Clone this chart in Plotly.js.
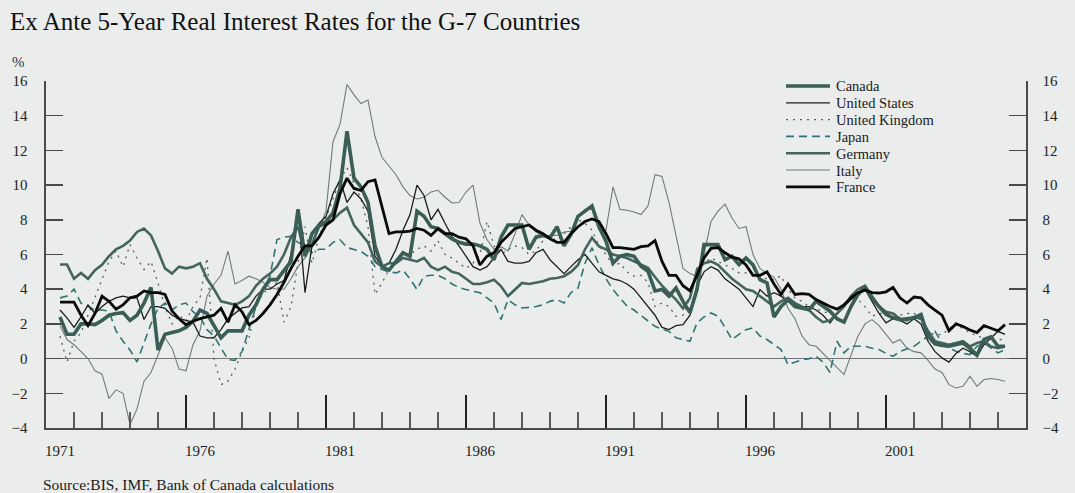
<!DOCTYPE html>
<html><head><meta charset="utf-8">
<script src="https://cdn.plot.ly/plotly-3.0.1.min.js"></script>
<style>html,body{margin:0;padding:0;background:#eaedec;}#chart{width:1075px;height:493px;}</style>
</head><body><div id="chart"></div>
<script>
// Quarterly observations, first quarter = 1971 Q3
const startYear = 1971.5;
const quarterStep = 0.25;

const canada = [
2.4, 1.4,
1.4, 2.0, 2.0, 1.96,
2.2, 2.5, 2.6, 2.65,
2.2, 2.5, 3.2, 4.1,
0.5, 1.4, 1.5, 1.6,
1.8, 2.15, 2.8, 2.6,
1.9, 1.2, 1.6, 1.6,
1.6, 2.5, 3.1, 4.0,
4.55, 4.55, 5.1, 5.6,
8.6, 5.9, 7.2, 7.7,
7.9, 8.4, 9.8, 13.1,
10.4, 9.9, 9.0, 6.5,
5.3, 5.1, 5.6, 6.1,
5.9, 8.5, 8.2, 7.6,
7.5, 7.2, 6.9, 6.7,
6.6, 6.6, 6.5, 6.3,
5.7, 7.0, 7.7, 7.7,
7.7, 6.3, 7.0, 7.1,
6.97, 7.6, 6.5, 7.15,
8.2, 8.5, 8.8, 7.6,
6.76, 5.5, 5.9, 6.0,
5.9, 5.33, 5.03, 3.9,
3.98, 3.6, 4.07, 3.3,
2.65, 3.98, 6.57, 6.57,
6.57, 5.7, 5.9, 5.42,
5.8, 5.4, 4.55, 4.36,
2.4, 3.0, 3.4, 3.0,
2.92, 2.82, 3.3, 3.0,
2.73, 2.3, 2.1, 3.0,
3.7, 4.1, 3.5, 3.0,
2.55, 2.35, 2.25, 2.3,
2.35, 2.54, 1.29, 0.85,
0.75, 0.71, 0.81, 0.9,
0.6, 0.2, 1.1, 1.25,
0.71, 0.71
];

const unitedStates = [
2.8, 2.35,
1.8, 2.4, 3.1, 2.6,
3.0, 3.3, 3.5, 3.6,
3.5, 3.5, 2.25, 3.0,
3.0, 2.9, 2.5, 2.3,
2.2, 2.1, 1.3, 1.2,
1.2, 1.67, 2.3, 2.63,
2.92, 3.0, 3.6, 4.0,
4.0, 4.3, 4.5, 6.0,
8.6, 3.8, 6.5, 7.8,
8.2, 9.5, 10.3, 9.0,
9.6, 9.2, 8.5, 5.9,
5.3, 5.5, 6.3, 7.4,
8.3, 10.0, 9.4, 8.0,
8.6, 7.8, 7.05, 6.5,
5.9, 5.3, 5.1, 5.3,
5.8, 6.3, 5.6, 5.5,
5.5, 5.6, 6.1, 6.3,
5.7, 5.3, 4.9, 5.3,
5.7, 6.0, 5.5, 5.0,
4.8, 4.6, 4.5, 4.3,
4.0, 3.5, 3.0, 2.5,
1.8, 1.67, 1.9, 1.96,
2.5, 4.2, 5.0, 5.3,
5.1, 4.6, 4.3, 4.0,
3.5, 3.0, 3.98, 3.6,
3.8, 3.6, 3.3, 3.1,
3.0, 3.0, 2.8, 2.5,
2.06, 2.6, 3.0, 3.4,
3.7, 4.0, 3.3, 2.6,
2.06, 2.3, 2.2, 2.0,
2.3, 2.0, 1.0, 0.4,
0.04, -0.2, 0.3, 0.6,
0.4, 0.13, 0.8, 1.2,
1.57, 1.4
];

const unitedKingdom = [
1.3, -0.2,
1.0, 1.5, 2.5, 3.5,
4.5, 5.6, 6.2, 5.3,
6.57, 5.8, 5.13, 5.6,
4.36, 3.0, 2.0, 2.5,
2.15, 3.0, 3.5, 5.8,
0.0, -1.5, -1.3, -0.6,
0.4, 1.2, 3.0, 3.8,
4.0, 4.4, 2.1, 3.0,
5.5, 7.6, 5.5, 7.0,
8.1, 9.16, 10.3, 11.0,
10.1, 9.2, 7.6, 3.7,
4.36, 5.13, 5.5, 5.9,
6.0, 6.3, 6.5, 6.2,
6.8, 6.0, 5.8, 5.5,
5.2, 5.5, 6.0, 7.9,
6.5, 6.0, 6.3, 6.5,
6.4, 6.0, 6.2, 6.8,
7.0, 6.8, 7.2, 7.6,
8.0, 7.8, 7.4, 6.5,
6.0, 5.33, 5.5, 5.0,
4.75, 4.8, 4.4, 3.0,
3.2, 3.0, 2.44, 2.5,
3.5, 5.23, 5.5, 5.8,
5.6, 5.4, 5.2, 4.94,
4.94, 4.8, 4.7, 4.6,
4.55, 4.78, 4.0, 3.5,
3.3, 3.0, 2.9, 2.7,
2.6, 2.54, 3.0, 3.4,
3.4, 3.0, 2.44, 2.6,
2.6, 2.6, 2.5, 2.6,
2.63, 2.2, 1.48, 1.4,
1.38, 1.7, 2.06, 1.7,
1.48, 1.3, 1.2, 1.1,
1.1, 1.1
];

const japan = [
3.5, 3.6,
4.0, 3.2, 3.0, 2.8,
2.8, 2.73, 1.6, 1.0,
0.5, -0.2, 0.9, 2.0,
2.9, 3.2, 2.8, 3.1,
3.2, 2.7, 2.4, 1.67,
1.3, 0.6, -0.06, -0.1,
0.4, 1.7, 3.0, 4.0,
4.75, 6.86, 7.0, 7.05,
6.7, 6.5, 6.1, 6.3,
6.3, 6.7, 6.86, 6.4,
6.28, 6.18, 5.9, 5.3,
5.13, 5.0, 4.94, 5.1,
4.6, 3.98, 4.75, 4.8,
4.8, 4.6, 4.3, 4.1,
3.98, 3.9, 3.79, 3.5,
3.21, 2.25, 3.4, 3.1,
2.92, 2.95, 3.0, 3.1,
3.3, 3.4, 3.2, 3.8,
4.07, 5.5, 6.38, 5.4,
4.6, 3.98, 3.5, 3.02,
2.8, 2.5, 2.2, 1.86,
1.7, 1.57, 1.2, 1.1,
1.0, 2.06, 2.4, 2.63,
2.44, 1.8, 1.1, 1.4,
1.67, 1.77, 1.3, 1.1,
0.8, 0.52, -0.35, -0.2,
-0.06, 0.0, 0.13, -0.2,
-0.8, 1.0, 0.33, 0.71,
0.71, 0.71, 0.6, 0.52,
0.3, 0.13, 0.42, 0.55,
0.71, 1.0, 1.29, 1.57,
0.9, 0.6, 0.42, 0.3,
0.23, 0.71, 0.9, 0.6,
0.33, 0.52
];

const germany = [
5.42, 5.42,
4.6, 4.94, 4.6, 5.1,
5.4, 5.9, 6.3, 6.5,
6.8, 7.3, 7.5, 7.1,
6.2, 5.2, 4.9, 5.3,
5.2, 5.3, 5.5, 4.6,
4.0, 3.3, 3.2, 3.1,
3.3, 3.6, 4.2, 4.6,
4.9, 5.3, 6.0, 7.0,
7.6, 6.0, 6.6, 7.6,
7.8, 8.0, 8.4, 8.7,
7.7, 7.2, 6.7, 5.6,
5.3, 5.5, 5.5, 5.8,
5.7, 5.6, 5.8, 5.3,
5.1, 5.3, 5.0, 4.9,
4.6, 4.3, 4.3, 4.4,
4.55, 4.17, 3.6, 4.0,
4.36, 4.3, 4.36, 4.46,
4.6, 4.65, 4.75, 5.0,
5.4, 6.3, 6.97, 6.47,
6.3, 6.0, 5.9, 5.8,
5.6, 5.4, 5.23, 4.7,
4.2, 3.79, 3.4, 2.9,
3.5, 5.13, 5.5, 5.6,
5.4, 5.0, 4.6, 4.3,
4.0, 3.9, 3.6, 3.3,
3.0, 3.3, 3.5, 3.2,
3.0, 2.8, 2.4, 2.1,
2.2, 2.6, 3.0, 3.6,
4.0, 4.2, 3.6, 3.0,
2.7, 2.6, 2.3, 2.2,
2.4, 2.3, 1.6, 1.0,
0.9, 0.8, 0.9, 1.0,
0.7, 0.9, 1.0, 0.7,
0.6, 0.7
];

const italy = [
1.9, 1.1,
0.8, 0.4, 0.0, -0.7,
-0.9, -2.3, -1.8, -2.0,
-3.8, -2.9, -1.3, -0.8,
0.2, 1.2, 0.6, -0.6,
-0.7, 0.8, 1.6, 3.6,
4.3, 4.8, 6.2, 4.3,
4.5, 4.75, 4.6, 4.4,
4.1, 4.0, 4.0, 4.6,
5.3, 5.8, 6.5, 7.5,
8.5, 12.5, 13.5, 15.8,
15.2, 14.7, 14.9, 12.8,
11.6, 11.1, 10.6, 9.9,
9.4, 9.2, 9.3, 9.6,
9.7, 9.3, 8.97, 9.0,
9.6, 10.0, 7.8, 6.86,
6.3, 6.45, 6.2, 7.2,
8.3, 7.7, 7.3, 7.05,
7.1, 7.1, 7.3, 7.34,
8.2, 8.6, 8.6, 7.4,
7.4, 9.9, 8.6, 8.55,
8.45, 8.3, 8.8, 10.6,
10.5, 9.0, 7.0, 5.2,
4.9, 4.75, 6.0, 7.9,
8.5, 8.9, 8.1, 7.5,
7.6, 6.0, 5.2, 4.9,
4.7, 4.0, 2.9, 2.3,
1.3, 0.8, 0.71, 0.3,
-0.1, -0.55, -0.92, 0.2,
1.3, 2.0, 2.25, 1.9,
1.4, 0.9, 1.1, 0.6,
0.4, 0.33, -0.1, -0.6,
-0.8, -1.5, -1.69, -1.6,
-1.02, -1.6, -1.21, -1.15,
-1.2, -1.31
];

const france = [
3.25, 3.25,
3.25, 2.5, 1.9, 2.6,
3.6, 3.3, 2.85, 3.1,
3.5, 3.6, 3.9, 3.8,
3.8, 3.7, 2.75, 2.3,
1.95, 2.15, 2.3, 2.4,
2.5, 2.9, 2.1, 3.1,
2.7, 1.96, 2.2, 2.6,
3.1, 3.7, 4.4, 5.2,
5.9, 6.5, 6.5, 7.0,
7.7, 8.0, 9.5, 10.4,
9.8, 9.7, 10.2, 10.3,
8.8, 7.2, 7.3, 7.3,
7.35, 7.5, 7.4, 7.1,
7.5, 7.2, 7.2, 7.0,
6.9, 6.5, 5.4, 5.9,
6.1, 6.7, 7.1, 7.5,
7.6, 7.7, 7.4, 7.2,
6.9, 6.7, 6.7, 7.2,
7.6, 7.9, 8.05, 7.9,
7.2, 6.4, 6.4, 6.35,
6.3, 6.45, 6.5, 6.8,
5.6, 4.8, 4.8, 4.2,
3.9, 4.8, 5.8, 6.35,
6.4, 6.1, 5.85, 5.75,
5.4, 4.8, 4.8, 5.0,
4.3, 3.7, 4.3, 3.7,
3.75, 3.7, 3.4, 3.2,
3.0, 2.85, 3.1, 3.5,
3.8, 3.95, 3.8, 3.78,
3.85, 4.1, 3.5, 3.2,
3.55, 3.5, 3.1, 2.8,
2.5, 1.6, 2.0, 1.85,
1.65, 1.5, 1.9, 1.75,
1.6, 1.96
];

const seriesNames = ['Canada', 'United States', 'United Kingdom', 'Japan', 'Germany', 'Italy', 'France'];
const labelYears = [1971, 1976, 1981, 1986, 1991, 1996, 2001];
const majorTickYears = [1976, 1981, 1986, 1991, 1996, 2001];
const yTicks = [-4, -2, 0, 2, 4, 6, 8, 10, 12, 14, 16];

const quarters = canada.map((_, i) => startYear + i * quarterStep);

const styles = {
  'Canada':         {color: '#3a5d56', width: 3.6, dash: 'solid'},
  'United States':  {color: '#1c1c1c', width: 1.3, dash: 'solid'},
  'United Kingdom': {color: '#555b59', width: 1.3, dash: '2px,5px'},
  'Japan':          {color: '#2f7471', width: 1.6, dash: '8px,5px'},
  'Germany':        {color: '#44655e', width: 2.6, dash: 'solid'},
  'Italy':          {color: '#6f7c79', width: 1.1, dash: 'solid'},
  'France':         {color: '#0a0a0a', width: 2.8, dash: 'solid'}
};
const dataByName = {
  'Canada': canada, 'United States': unitedStates, 'United Kingdom': unitedKingdom,
  'Japan': japan, 'Germany': germany, 'Italy': italy, 'France': france
};
const drawOrder = ['Italy', 'United Kingdom', 'Japan', 'United States', 'Germany', 'Canada', 'France'];

const traces = drawOrder.map(n => ({
  type: 'scatter', mode: 'lines', name: n,
  x: quarters, y: dataByName[n],
  line: {color: styles[n].color, width: styles[n].width, dash: styles[n].dash},
  showlegend: false, hoverinfo: 'skip'
}));

// plot area in pixels
const W = 1075, H = 493, L = 46, R = 49, T = 81, B = 65;
const pw = W - L - R, ph = H - T - B;
const px = x => (x - L) / pw;
const py = y => (H - B - y) / ph;

const serif = '"Liberation Serif", "DejaVu Serif", serif';
const annotations = [];
const shapes = [];
// legend: line keys plus labels
const legendRow = 16.8, legendTop = 86;
seriesNames.forEach((n, k) => {
  const yy = legendTop + legendRow * k;
  shapes.push({type: 'line', xref: 'paper', yref: 'paper', x0: px(786), x1: px(830), y0: py(yy), y1: py(yy),
    line: {color: styles[n].color, width: styles[n].width, dash: styles[n].dash}});
  annotations.push({xref: 'paper', yref: 'paper', x: px(835), y: py(yy + 0.5), xanchor: 'left', yanchor: 'middle',
    text: n, showarrow: false, borderpad: 0, font: {family: serif, size: 14.5, color: '#1a1a1a'}});
});
annotations.push({xref: 'paper', yref: 'paper', x: px(10), y: py(62), xanchor: 'left', yanchor: 'middle',
  text: '%', showarrow: false, font: {family: serif, size: 15, color: '#333'}});
annotations.push({xref: 'paper', yref: 'paper', x: px(41), y: py(484), xanchor: 'left', yanchor: 'middle',
  text: 'Source:BIS, IMF, Bank of Canada calculations', showarrow: false, font: {family: serif, size: 15.5, color: '#1a1a1a'}});

const minorYears = [];
for (let yv = 1972; yv <= 2005; yv++) minorYears.push(yv);

const axisColor = '#4a4a4a';
const layout = {
  width: W, height: H,
  paper_bgcolor: '#eaedec', plot_bgcolor: '#eaedec',
  margin: {l: L, r: R, t: T, b: B, pad: 0},
  font: {family: serif, size: 15, color: '#222'},
  title: {text: 'Ex Ante 5-Year Real Interest Rates for the G-7 Countries',
    x: 10 / W, xanchor: 'left', xref: 'container', y: 1 - 21 / H, yanchor: 'middle', yref: 'container',
    font: {family: serif, size: 25, color: '#111'}},
  showlegend: false,
  xaxis: {range: [1971, 2006], tickmode: 'array', tickvals: labelYears.map(v => v + 0.5),
    ticktext: labelYears.map(String), ticks: '', showline: true, linecolor: axisColor, linewidth: 1.6,
    showgrid: false, zeroline: false, ticklabelstandoff: 8, tickfont: {family: serif, size: 15, color: '#222'}},
  xaxis2: {overlaying: 'x', anchor: 'y', side: 'bottom', range: [1971, 2006], tickmode: 'array', tickvals: minorYears,
    ticks: 'inside', ticklen: 16, tickwidth: 1.5, tickcolor: '#5a5a5a', showticklabels: false, showline: false,
    showgrid: false, zeroline: false},
  xaxis3: {overlaying: 'x', anchor: 'y', side: 'bottom', range: [1971, 2006], tickmode: 'array', tickvals: majorTickYears,
    ticks: 'inside', ticklen: 33, tickwidth: 1.5, tickcolor: '#222', showticklabels: false, showline: false,
    showgrid: false, zeroline: false},
  yaxis: {range: [-4, 16], tickmode: 'array', tickvals: yTicks, ticks: 'inside', ticklen: 17, tickwidth: 1.5,
    tickcolor: axisColor, showline: true, linecolor: axisColor, linewidth: 1.6, showgrid: false,
    zeroline: true, zerolinecolor: '#767676', zerolinewidth: 1.6, ticklabelstandoff: 14,
    tickfont: {family: serif, size: 15, color: '#222'}},
  yaxis2: {overlaying: 'y', anchor: 'x', side: 'right', range: [-4, 16], tickmode: 'array', tickvals: yTicks,
    ticks: 'inside', ticklen: 17, tickwidth: 1.5, tickcolor: axisColor, showline: true, linecolor: axisColor,
    linewidth: 1.6, showgrid: false, zeroline: false, ticklabelstandoff: 12,
    tickfont: {family: serif, size: 15, color: '#222'}},
  annotations: annotations,
  shapes: shapes
};

// empty helper traces so the overlay tick axes are created
traces.push({type: 'scatter', x: [], y: [], xaxis: 'x2', yaxis: 'y', showlegend: false, hoverinfo: 'skip'});
traces.push({type: 'scatter', x: [], y: [], xaxis: 'x3', yaxis: 'y', showlegend: false, hoverinfo: 'skip'});
traces.push({type: 'scatter', x: [], y: [], xaxis: 'x', yaxis: 'y2', showlegend: false, hoverinfo: 'skip'});

Plotly.newPlot('chart', traces, layout, {displayModeBar: false, staticPlot: true});
</script>
</body></html>
